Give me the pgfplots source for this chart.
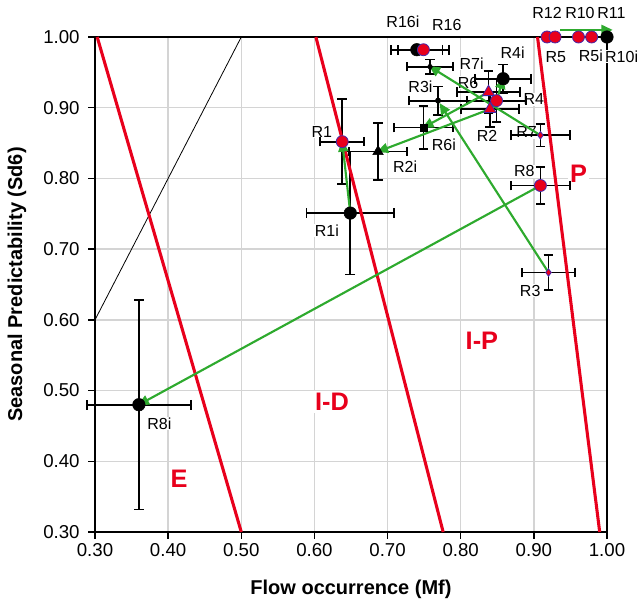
\documentclass[border=0pt]{standalone}
\usepackage{pgfplots}
\pgfplotsset{compat=1.18}
\usepackage{fontspec}
\setmainfont{Liberation Sans}
\usetikzlibrary{arrows.meta}
\definecolor{myred}{RGB}{232,0,28}
\definecolor{mygreen}{RGB}{46,170,46}
\definecolor{myblue}{RGB}{70,40,170}
\definecolor{mygrid}{RGB}{212,212,212}
\tikzset{
  lbl/.style={fill=white, inner sep=0.6pt, font=\fontsize{12}{13}\selectfont},
  zone/.style={fill=white, inner sep=1.5pt, text=myred, font=\fontsize{19}{20}\selectfont\bfseries},
}
\begin{document}
\begin{tikzpicture}
\begin{axis}[
  scale only axis, width=384pt, height=371.25pt,
  xmin=0.3, xmax=1, ymin=0.3, ymax=1, clip=false,
  xtick={0.3,0.4,0.5,0.6,0.7,0.8,0.9,1.0},
  ytick={0.3,0.4,0.5,0.6,0.7,0.8,0.9,1.0},
  /pgf/number format/assume math mode=true,
  xticklabel style={/pgf/number format/fixed,/pgf/number format/fixed zerofill,/pgf/number format/precision=2},
  yticklabel style={/pgf/number format/fixed,/pgf/number format/fixed zerofill,/pgf/number format/precision=2, xshift=-3pt},
  ticklabel style={font=\fontsize{14}{15}\selectfont},
  grid=major, grid style={draw=mygrid, line width=1.1pt},
  axis line style={black, line width=1.1pt},
  tick pos=left, tick align=outside, major tick length=5pt,
  tick style={black, line width=1.1pt},
  xlabel={Flow occurrence (Mf)}, ylabel={Seasonal Predictability (Sd6)},
  label style={font=\fontsize{15}{16}\selectfont\bfseries},
  xlabel style={at={(axis description cs:0.5,-0.1152)}, anchor=center},
  ylabel style={at={(axis description cs:-0.1523,0.5)}, anchor=center},
  eb/.style={only marks,
    error bars/x dir=both, error bars/x explicit,
    error bars/y dir=both, error bars/y explicit,
    error bars/error bar style={black, line width=1.3pt},
    error bars/error mark options={black, line width=1.3pt, rotate=90, mark size=3.6pt}},
  redc/.style={eb, mark=*, mark size=4.5pt, mark options={fill=myred, draw=myblue, line width=0.6pt}},
  redt/.style={eb, mark=triangle*, mark size=5.2pt, mark options={fill=myred, draw=myblue, line width=0.6pt}},
  redd/.style={eb, mark=diamond*, mark size=2.8pt, mark options={fill=myred, draw=myblue, line width=0.6pt}},
  arr/.style={mygreen, line width=1.6pt, -{Triangle[length=8.5pt,width=7.5pt]}, shorten >=-1pt},
  redline/.style={myred, line width=2.3pt},
]
% labels
\node[zone] at (axis cs:0.415,0.375) {E};
\node[zone] at (axis cs:0.624,0.484) {I-D};
\node[zone] at (axis cs:0.829,0.571) {I-P};
\node[zone] at (axis cs:0.961,0.806) {P};
\node[lbl] at (axis cs:0.721,1.021) {R16i};
\node[lbl] at (axis cs:0.781,1.017) {R16};
\node[lbl] at (axis cs:0.918,1.034) {R12};
\node[lbl] at (axis cs:0.963,1.034) {R10};
\node[lbl] at (axis cs:1.006,1.034) {R11};
\node[lbl] at (axis cs:0.930,0.972) {R5};
\node[lbl] at (axis cs:0.978,0.973) {R5i};
\node[lbl] at (axis cs:1.020,0.972) {R10i};
\node[lbl] at (axis cs:0.815,0.962) {R7i};
\node[lbl] at (axis cs:0.871,0.978) {R4i};
\node[lbl] at (axis cs:0.810,0.935) {R6};
\node[lbl] at (axis cs:0.745,0.929) {R3i};
\node[lbl] at (axis cs:0.900,0.912) {R4};
\node[lbl] at (axis cs:0.836,0.860) {R2};
\node[lbl] at (axis cs:0.777,0.847) {R6i};
\node[lbl] at (axis cs:0.724,0.816) {R2i};
\node[lbl] at (axis cs:0.887,0.810) {R8};
\node[lbl] at (axis cs:0.890,0.865) {R7};
\node[lbl] at (axis cs:0.610,0.866) {R1};
\node[lbl] at (axis cs:0.617,0.726) {R1i};
\node[lbl] at (axis cs:0.895,0.641) {R3};
\node[lbl] at (axis cs:0.388,0.453) {R8i};
% thin diagonal
\addplot[black, line width=0.6pt] coordinates {(0.30,0.60) (0.50,1.00)};
% black markers
\addplot[eb, mark=*, mark size=4.7pt, mark options={fill=black, draw=black}] coordinates {
 (0.36,0.48) +- (0.071,0.148)
 (0.649,0.751) +- (0.06,0.087)
 (0.858,0.941) +- (0.038,0.02)
 (0.740,0.982) +- (0.035,0.0)
 (1.0,1.0) +- (0,0)
};
\addplot[eb, mark=triangle*, mark size=4.5pt, mark options={fill=black, draw=black}] coordinates {
 (0.687,0.838) +- (0.04,0.04)
};
\addplot[eb, mark=square*, mark size=2.6pt, mark options={fill=black, draw=black}] coordinates {
 (0.749,0.872) +- (0.04,0.03)
};
\addplot[eb, mark=*, mark size=2pt, mark options={fill=black, draw=black}] coordinates {
 (0.769,0.910) +- (0.04,0.02)
};
\addplot[eb, mark=diamond*, mark size=2.6pt, mark options={fill=black, draw=black}] coordinates {
 (0.758,0.958) +- (0.031,0.01)
};
% red markers
\addplot[redc] coordinates {
 (0.638,0.852) +- (0.03,0.06)
 (0.849,0.910) +- (0.04,0.03)
 (0.909,0.790) +- (0.04,0.026)
 (0.749,0.982) +- (0.035,0.0)
 (0.918,1.0) +- (0,0)
 (0.929,1.0) +- (0,0)
 (0.961,1.0) +- (0,0)
 (0.979,1.0) +- (0,0)
};
\addplot[redt] coordinates {
 (0.838,0.922) +- (0.043,0.03)
 (0.840,0.898) +- (0.04,0.025)
};
\addplot[redd] coordinates {
 (0.920,0.667) +- (0.036,0.025)
 (0.909,0.861) +- (0.04,0.016)
};
% zone boundaries
\addplot[redline] coordinates {(0.303,1.00) (0.500,0.30)};
\addplot[redline] coordinates {(0.602,1.00) (0.776,0.30)};
\addplot[redline] coordinates {(0.905,1.00) (0.990,0.30)};
% arrows
\addplot[arr] coordinates {(0.909,0.790) (0.36,0.48)};
\addplot[arr] coordinates {(0.649,0.751) (0.638,0.852)};
\addplot[arr] coordinates {(0.840,0.898) (0.687,0.838)};
\addplot[arr] coordinates {(0.838,0.922) (0.749,0.872)};
\addplot[arr] coordinates {(0.849,0.910) (0.858,0.941)};
\addplot[arr] coordinates {(0.909,0.861) (0.758,0.958)};
\addplot[arr] coordinates {(0.920,0.667) (0.772,0.905)};
\addplot[arr] coordinates {(0.936,1.010) (1.006,1.010)};
\end{axis}
\pgfresetboundingbox
\path (-71.25pt,-52.5pt) rectangle (407.25pt,399pt);
\end{tikzpicture}
\end{document}
